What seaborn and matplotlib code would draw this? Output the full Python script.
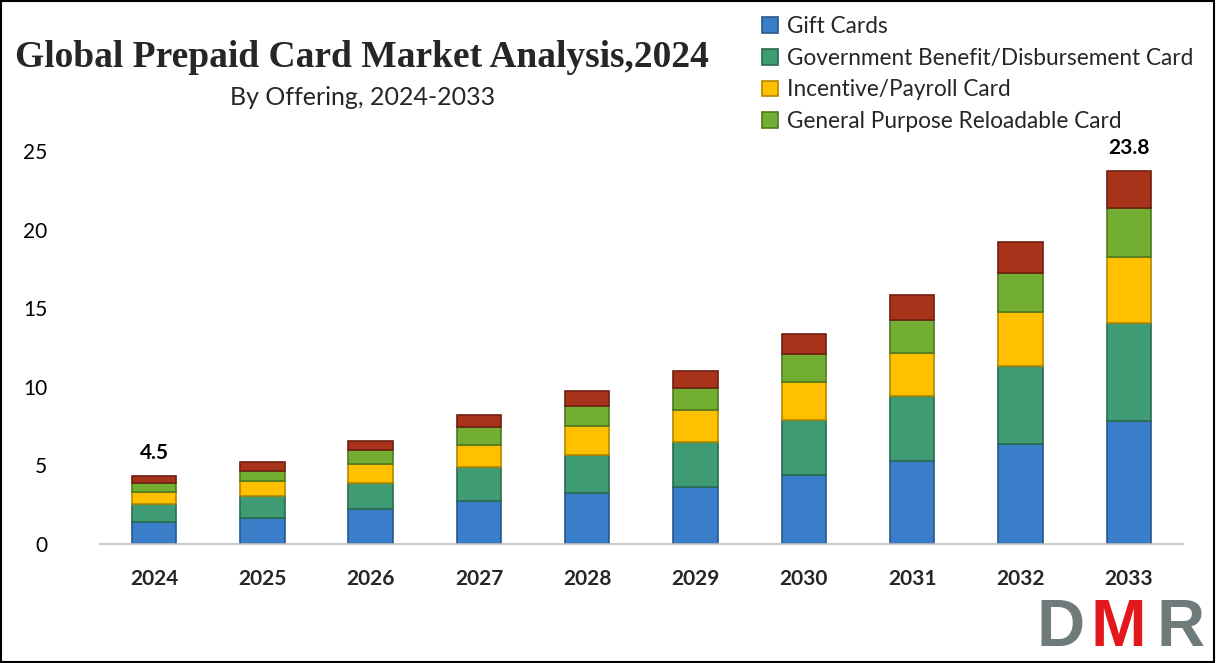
import numpy as np
import pandas as pd
import matplotlib
matplotlib.use("Agg")
import matplotlib.pyplot as plt
import seaborn as sns
from matplotlib.patches import Rectangle

years = ["2024", "2025", "2026", "2027", "2028", "2029", "2030", "2031", "2032", "2033"]
gift_cards = [1.42, 1.67, 2.20, 2.74, 3.24, 3.63, 4.39, 5.28, 6.36, 7.82]
gov_benefit = [1.12, 1.38, 1.66, 2.16, 2.42, 2.86, 3.50, 4.13, 4.96, 6.24]
incentive = [0.79, 0.95, 1.23, 1.40, 1.84, 2.03, 2.41, 2.74, 3.44, 4.22]
gpr = [0.57, 0.66, 0.89, 1.14, 1.28, 1.40, 1.78, 2.10, 2.48, 3.12]
other = [0.45, 0.54, 0.59, 0.76, 0.95, 1.08, 1.28, 1.59, 1.96, 2.33]

series_names = ["Gift Cards", "Government Benefit/Disbursement Card",
                "Incentive/Payroll Card", "General Purpose Reloadable Card", "Other"]
series_vals = [gift_cards, gov_benefit, incentive, gpr, other]
colors = ["#3A7DC8", "#3F9B74", "#FFC000", "#71AE32", "#A9321B"]
edges = ["#27578C", "#2A6B50", "#B38700", "#4F7A20", "#6E2010"]

labels = {"2024": "4.5", "2033": "23.8"}

sns.set_theme(style="white")
plt.rcParams["font.family"] = ["Lato", "DejaVu Sans"]

fig = plt.figure(figsize=(12.16, 6.63), dpi=100)
ax = fig.add_axes([0.0822, 0.1795, 0.8906, 0.5927])

bottom = np.zeros(len(years))
for name, vals, c, ec in zip(series_names, series_vals, colors, edges):
    sns.barplot(x=years, y=vals, bottom=bottom, color=c, width=0.41, saturation=1,
                edgecolor=ec, linewidth=1.2, ax=ax, label=name)
    bottom = bottom + np.array(vals)

totals = bottom
for i, y in enumerate(years):
    if y in labels:
        ax.text(i, totals[i] + 0.8, labels[y], ha="center", va="bottom",
                fontsize=15, fontweight="bold", color="black")

ax.set_ylim(0, 25)
ax.set_yticks([0, 5, 10, 15, 20, 25])
ax.set_xlim(-0.5, len(years) - 0.5)
ax.set_xlabel("")
ax.set_ylabel("")
for s in ["top", "right", "left"]:
    ax.spines[s].set_visible(False)
ax.spines["bottom"].set_color("#BFBFBF")
ax.spines["bottom"].set_linewidth(1.2)
ax.tick_params(axis="y", labelsize=15, length=0, pad=38, colors="black")
ax.tick_params(axis="x", labelsize=15, length=0, pad=18)
for t in ax.get_xticklabels():
    t.set_fontweight("bold")

handles, hlabels = ax.get_legend_handles_labels()
if ax.get_legend() is not None:
    ax.get_legend().remove()
fig.legend(handles[:4], hlabels[:4], loc="upper left", bbox_to_anchor=(0.619, 0.99),
           frameon=False, fontsize=16.3, handlelength=0.7, handleheight=0.7,
           handletextpad=0.4, labelspacing=0.48, borderaxespad=0)

fig.text(0.298, 0.914, "Global Prepaid Card Market Analysis,2024", ha="center", va="center",
         fontsize=27, fontweight="bold", family="Liberation Serif")
fig.text(0.298, 0.853, "By Offering, 2024-2033", ha="center", va="center", fontsize=18)

# DMR logo
fig.text(0.872, 0.004, "D", ha="center", va="bottom", fontsize=48, fontweight="bold",
         color="#6F7B7B", family="Liberation Sans")
fig.text(0.920, 0.004, "M", ha="center", va="bottom", fontsize=48, fontweight="bold",
         color="#E3181C", family="Liberation Sans")
fig.text(0.971, 0.004, "R", ha="center", va="bottom", fontsize=48, fontweight="bold",
         color="#6F7B7B", family="Liberation Sans")

fig.patches.append(Rectangle((0.001, 0.002), 0.997, 0.996, transform=fig.transFigure,
                             fill=False, edgecolor="black", linewidth=1.5))

fig.savefig("out.png", dpi=100)
